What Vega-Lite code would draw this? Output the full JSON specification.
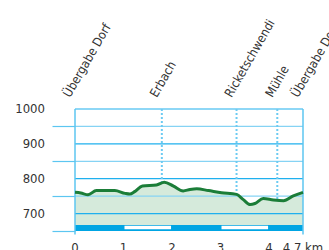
{
  "$schema": "https://vega.github.io/schema/vega-lite/v6.json",
  "width": 228,
  "height": 122,
  "autosize": {"type": "none"},
  "padding": {"left": 75, "top": 109, "right": 26, "bottom": 19},
  "background": "white",
  "config": {
    "view": {"stroke": null},
    "font": "DejaVu Sans Condensed, Roboto, sans-serif",
    "axis": {"title": null, "grid": false, "domain": false, "labels": false},
    "axisX": {"ticks": false},
    "axisY": {"ticks": true, "tickSize": 23, "tickWidth": 1.2, "tickColor": "#5cc6f1"}
  },
  "datasets": {
    "profile": [
      {"km": 0.0, "elev": 761},
      {"km": 0.12, "elev": 759},
      {"km": 0.27, "elev": 754},
      {"km": 0.44, "elev": 766},
      {"km": 0.82, "elev": 766},
      {"km": 1.03, "elev": 758},
      {"km": 1.13, "elev": 756},
      {"km": 1.23, "elev": 763},
      {"km": 1.39, "elev": 779},
      {"km": 1.68, "elev": 782},
      {"km": 1.84, "elev": 790},
      {"km": 2.03, "elev": 779},
      {"km": 2.23, "elev": 765},
      {"km": 2.37, "elev": 769},
      {"km": 2.51, "elev": 771},
      {"km": 2.75, "elev": 766},
      {"km": 3.02, "elev": 760},
      {"km": 3.33, "elev": 755},
      {"km": 3.47, "elev": 740},
      {"km": 3.61, "elev": 726},
      {"km": 3.71, "elev": 729},
      {"km": 3.88, "elev": 743},
      {"km": 4.09, "elev": 739},
      {"km": 4.3, "elev": 737},
      {"km": 4.5, "elev": 751},
      {"km": 4.7, "elev": 761}
    ],
    "waypoints": [
      {"name": "Übergabe Dorf", "km": 0, "elev": 761, "top": 1000, "labelElev": 1031},
      {"name": "Erbach", "km": 1.79, "elev": 788, "top": 1000, "labelElev": 1031},
      {"name": "Ricketschwendi", "km": 3.33, "elev": 755, "top": 1000, "labelElev": 1031},
      {"name": "Mühle", "km": 4.17, "elev": 738, "top": 1000, "labelElev": 1031},
      {"name": "Übergabe Dorf", "km": 4.7, "elev": 761, "top": 1000, "labelElev": 1031}
    ],
    "grid": [
      {"elev": 700, "major": "yes"}, {"elev": 750, "major": "no"}, {"elev": 800, "major": "yes"},
      {"elev": 850, "major": "no"}, {"elev": 900, "major": "yes"}, {"elev": 950, "major": "no"},
      {"elev": 1000, "major": "yes"}
    ],
    "ylabels": [
      {"elev": 700, "km": 0}, {"elev": 800, "km": 0}, {"elev": 900, "km": 0}, {"elev": 1000, "km": 0}
    ],
    "xlabels": [
      {"km": 0, "label": "0", "elev": 650},
      {"km": 1, "label": "1", "elev": 650},
      {"km": 2, "label": "2", "elev": 650},
      {"km": 3, "label": "3", "elev": 650},
      {"km": 4, "label": "4", "elev": 650},
      {"km": 4.7, "label": "4.7 km", "elev": 650}
    ],
    "borders": [{"km": 0, "low": 640, "high": 1000}, {"km": 4.7, "low": 640, "high": 1000}],
    "bar": [{"start": 0, "end": 4.7, "low": 650, "high": 667}],
    "gaps": [{"start": 1.02, "end": 1.98, "low": 655, "high": 665}, {"start": 3.02, "end": 3.98, "low": 655, "high": 665}]
  },
  "layer": [
    {
      "data": {"name": "profile"},
      "mark": {"type": "area", "color": "#d5eadb", "clip": true},
      "encoding": {
        "x": {"field": "km", "type": "quantitative",
          "scale": {"domain": [0, 4.7], "nice": false, "zero": false},
          "axis": {"values": [0, 1, 2, 3, 4, 4.7]}
        },
        "y": {"field": "elev", "type": "quantitative",
          "scale": {"domain": [650, 1000], "nice": false, "zero": false},
          "axis": {"values": [650, 700, 750, 800, 850, 900, 950, 1000]}
        }
      }
    },
    {
      "data": {"name": "grid"},
      "mark": {"type": "rule", "strokeWidth": 1.2},
      "encoding": {
        "y": {"field": "elev", "type": "quantitative"},
        "color": {"field": "major", "type": "nominal", "legend": null,
          "scale": {"domain": ["yes", "no"], "range": ["#1fb0ee", "#86d3f4"]}}
      }
    },
    {
      "data": {"name": "bar"},
      "mark": {"type": "rect", "color": "#00a5e3"},
      "encoding": {
        "x": {"field": "start", "type": "quantitative"},
        "x2": {"field": "end"},
        "y": {"field": "low", "type": "quantitative"},
        "y2": {"field": "high"}
      }
    },
    {
      "data": {"name": "gaps"},
      "mark": {"type": "rect", "color": "white"},
      "encoding": {
        "x": {"field": "start", "type": "quantitative"},
        "x2": {"field": "end"},
        "y": {"field": "low", "type": "quantitative"},
        "y2": {"field": "high"}
      }
    },
    {
      "data": {"name": "borders"},
      "mark": {"type": "rule", "color": "#5cc6f1", "strokeWidth": 1.5, "clip": false},
      "encoding": {
        "x": {"field": "km", "type": "quantitative"},
        "y": {"field": "low", "type": "quantitative"},
        "y2": {"field": "high"}
      }
    },
    {
      "data": {"name": "waypoints"},
      "transform": [{"filter": "datum.km > 0.1 && datum.km < 4.6"}],
      "mark": {"type": "rule", "color": "#6ccbf2", "strokeWidth": 2, "strokeDash": [2, 2]},
      "encoding": {
        "x": {"field": "km", "type": "quantitative"},
        "y": {"field": "top", "type": "quantitative"},
        "y2": {"field": "elev"}
      }
    },
    {
      "data": {"name": "profile"},
      "mark": {"type": "line", "color": "#1b7d38", "strokeWidth": 3, "interpolate": "monotone"},
      "encoding": {
        "x": {"field": "km", "type": "quantitative"},
        "y": {"field": "elev", "type": "quantitative"}
      }
    },
    {
      "data": {"name": "waypoints"},
      "mark": {
        "type": "text", "angle": 300, "align": "left", "baseline": "alphabetic",
        "dx": -2.5, "dy": -4.3, "fontSize": 12.5,
        "color": "#333333", "clip": false
      },
      "encoding": {
        "x": {"field": "km", "type": "quantitative"},
        "y": {"field": "labelElev", "type": "quantitative"},
        "text": {"field": "name"}
      }
    },
    {
      "data": {"name": "ylabels"},
      "mark": {
        "type": "text", "align": "right", "baseline": "middle", "dx": -30,
        "fontSize": 13, "color": "#333333", "clip": false
      },
      "encoding": {
        "x": {"field": "km", "type": "quantitative"},
        "y": {"field": "elev", "type": "quantitative"},
        "text": {"field": "elev", "type": "quantitative", "format": "d"}
      }
    },
    {
      "data": {"name": "xlabels"},
      "mark": {
        "type": "text", "align": "center", "baseline": "top", "dy": 10.5,
        "fontSize": 13, "color": "#333333", "clip": false
      },
      "encoding": {
        "x": {"field": "km", "type": "quantitative"},
        "y": {"field": "elev", "type": "quantitative"},
        "text": {"field": "label"}
      }
    }
  ]
}
